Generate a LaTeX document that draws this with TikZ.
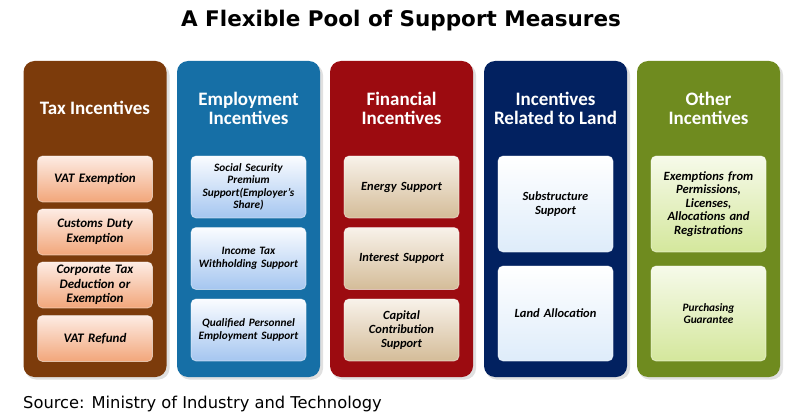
\documentclass[tikz,border=0pt]{standalone}
\usepackage{fontspec}
\setmainfont{Carlito}
\newfontfamily\verd{DejaVu Sans}
\definecolor{taxc}{RGB}{124,59,11}
\definecolor{empc}{RGB}{22,111,166}
\definecolor{finc}{RGB}{156,11,16}
\definecolor{landc}{RGB}{2,33,96}
\definecolor{othc}{RGB}{111,139,31}
\definecolor{taxtop}{RGB}{253,236,228}
\definecolor{taxbot}{RGB}{242,166,122}
\definecolor{emptop}{RGB}{250,252,255}
\definecolor{empbot}{RGB}{165,198,240}
\definecolor{fintop}{RGB}{248,242,234}
\definecolor{finbot}{RGB}{212,188,152}
\definecolor{landtop}{RGB}{255,255,255}
\definecolor{landbot}{RGB}{222,236,250}
\definecolor{othtop}{RGB}{246,250,234}
\definecolor{othbot}{RGB}{212,231,156}
\begin{document}
\begin{tikzpicture}[x=1pt,y=-1pt,
  panel/.style={rounded corners=11pt,minimum width=143pt,minimum height=316pt,inner sep=0pt},
  head/.style={text=white,font=\fontsize{19}{19}\selectfont\bfseries,align=center},
  item/.style={rounded corners=5pt,minimum width=115pt,text width=112pt,align=center,inner sep=0pt,
    draw=white,draw opacity=0.5,line width=0.8pt,font=\fontsize{12.5}{14.3}\selectfont\bfseries\itshape},
  small/.style={font=\fontsize{11.3}{12.5}\selectfont\bfseries\itshape}]
\useasboundingbox (0,0) rectangle (800,417);
% title and source
\node[font=\verd\fontsize{21.5}{21.5}\selectfont\bfseries] (title) at (401,21) {A Flexible Pool of Support Measures};
\node[font=\verd\fontsize{16.3}{16.3}\selectfont,anchor=base west,inner sep=0pt] (source) at (23,408.5) {Source: Ministry of Industry and Technology};
% shadows
\foreach \cx in {95,248.5,401.5,555.5,708.5}
  \fill[black!12,rounded corners=11pt] (\cx-70,64) rectangle (\cx+74.5,379.5);
% tax incentives
\node[panel,fill=taxc] (tax) at (95,219) {};
\node[head] (taxh) at (95,108) {Tax Incentives};
\node[item,font=\fontsize{13}{14.5}\selectfont\bfseries\itshape,top color=taxtop,bottom color=taxbot,minimum height=46pt] (vatex) at (95,179) {VAT Exemption};
\node[item,font=\fontsize{13}{14.5}\selectfont\bfseries\itshape,top color=taxtop,bottom color=taxbot,minimum height=46pt] (customs) at (95,232) {Customs Duty\\Exemption};
\node[item,font=\fontsize{13}{14.5}\selectfont\bfseries\itshape,top color=taxtop,bottom color=taxbot,minimum height=46pt] (corp) at (95,285) {Corporate Tax\\Deduction or\\Exemption};
\node[item,font=\fontsize{13}{14.5}\selectfont\bfseries\itshape,top color=taxtop,bottom color=taxbot,minimum height=46pt] (vatref) at (95,338.5) {VAT Refund};
% employment incentives
\node[panel,fill=empc] (emp) at (248.5,219) {};
\node[head] (emph) at (248.5,108) {Employment\\Incentives};
\node[item,small,top color=emptop,bottom color=empbot,minimum height=62pt] (social) at (248.5,187) {Social Security\\Premium\\Support(Employer's\\Share)};
\node[item,small,top color=emptop,bottom color=empbot,minimum height=62pt] (income) at (248.5,258.5) {Income Tax\\Withholding Support};
\node[item,small,top color=emptop,bottom color=empbot,minimum height=62pt] (qualified) at (248.5,330) {Qualified Personnel\\Employment Support};
% financial incentives
\node[panel,fill=finc] (fin) at (401.5,219) {};
\node[head] (finh) at (401.5,108) {Financial\\Incentives};
\node[item,top color=fintop,bottom color=finbot,minimum height=62pt] (energy) at (401.5,187) {Energy Support};
\node[item,top color=fintop,bottom color=finbot,minimum height=62pt] (interest) at (401.5,258.5) {Interest Support};
\node[item,top color=fintop,bottom color=finbot,minimum height=62pt] (capital) at (401.5,330) {Capital\\Contribution\\Support};
% land incentives
\node[panel,fill=landc] (land) at (555.5,219) {};
\node[head] (landh) at (555.5,108) {Incentives\\Related to Land};
\node[item,top color=landtop,bottom color=landbot,minimum height=96pt] (substr) at (555.5,204) {Substructure\\Support};
\node[item,top color=landtop,bottom color=landbot,minimum height=95pt] (alloc) at (555.5,313.5) {Land Allocation};
% other incentives
\node[panel,fill=othc] (oth) at (708.5,219) {};
\node[head] (othh) at (708.5,108) {Other\\Incentives};
\node[item,font=\fontsize{12.6}{13.5}\selectfont\bfseries\itshape,top color=othtop,bottom color=othbot,minimum height=96pt] (exempt) at (708.5,204) {Exemptions from\\Permissions,\\Licenses,\\Allocations and\\Registrations};
\node[item,small,top color=othtop,bottom color=othbot,minimum height=95pt] (purch) at (708.5,313.5) {Purchasing\\Guarantee};
\end{tikzpicture}
\end{document}
